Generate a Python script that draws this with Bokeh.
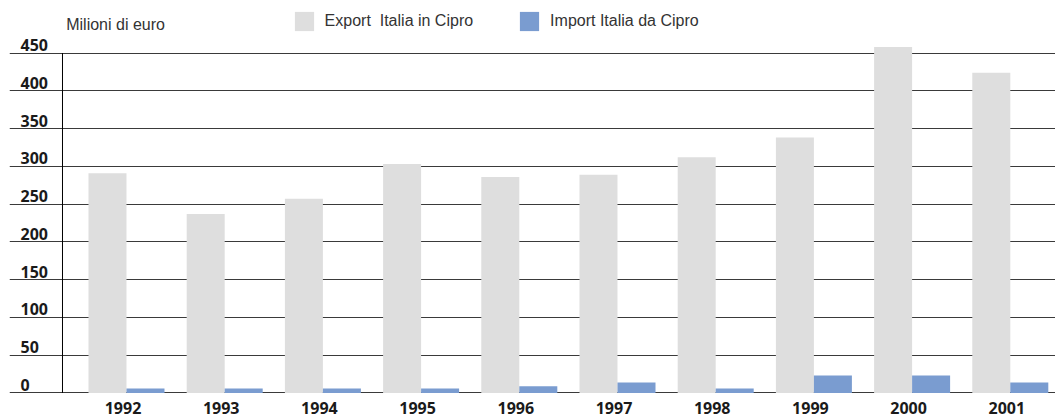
import numpy as np
from bokeh.plotting import figure
from bokeh.models import Range1d, Grid, FixedTicker, Label, Legend, LegendItem, ColumnDataSource
from bokeh.core.properties import value
from bokeh.embed import file_html
from bokeh.resources import INLINE

# ---- data ----
years = ["1992", "1993", "1994", "1995", "1996", "1997", "1998", "1999", "2000", "2001"]
export_vals = [291, 237, 257, 303, 286, 289, 312, 338, 458, 424]
import_vals = [6, 6, 6, 6, 9, 14, 6, 23, 23, 14]
y_ticks = [0, 50, 100, 150, 200, 250, 300, 350, 400, 450]
y_tick_labels = [str(t) for t in y_ticks]
series_names = ["Export  Italia in Cipro", "Import Italia da Cipro"]
unit_label = "Milioni di euro"

# ---- styles ----
EXPORT_COLOR = "#dedede"
IMPORT_COLOR = "#7a9cd0"
GRID_COLOR = "#3a3a3a"
LABEL_FONT = "Open Sans"
LIGHT_FONT = "Liberation Sans"
BAR_W = 0.387

idx = np.arange(len(years))
src = ColumnDataSource(dict(
    x_exp=idx - BAR_W / 2,
    x_imp=idx + BAR_W / 2,
    exp=export_vals,
    imp=import_vals,
))

p = figure(width=1055, height=419,
           x_range=Range1d(-1.1914, 9.4603), y_range=Range1d(-35.1, 519.5),
           x_axis_type=None, y_axis_type=None,
           toolbar_location=None, output_backend="svg",
           min_border=0, min_border_left=9, min_border_right=0,
           min_border_top=0, min_border_bottom=0,
           outline_line_color=None, background_fill_color="white",
           border_fill_color="white")

grid = Grid(dimension=1, ticker=FixedTicker(ticks=y_ticks),
            grid_line_color=GRID_COLOR, grid_line_width=1)
p.add_layout(grid)

# vertical axis line
axis_x = -0.6517
p.segment(x0=[axis_x], y0=[y_ticks[0]], x1=[axis_x], y1=[y_ticks[-1]],
          line_color="black", line_width=1)

r_exp = p.vbar(x="x_exp", top="exp", bottom=0, width=BAR_W, source=src,
               fill_color=EXPORT_COLOR, line_color=None)
r_imp = p.vbar(x="x_imp", top="imp", bottom=0, width=BAR_W, source=src,
               fill_color=IMPORT_COLOR, line_color=None)

# y tick labels (left aligned, above grid lines)
p.text(x=-1.0794, y=y_ticks, text=y_tick_labels,
       text_font=value(LABEL_FONT), text_font_size="16px", text_font_style="bold",
       text_color="#1a1a1a", text_align="left", text_baseline="alphabetic",
       y_offset=-8)

# year labels
p.text(x=idx, y=[0] * len(years), text=years,
       text_font=value(LABEL_FONT), text_font_size="16px", text_font_style="bold",
       text_color="#1a1a1a", text_align="center", text_baseline="alphabetic",
       x_offset=-3.5, y_offset=15)

# unit label
p.add_layout(Label(x=56.7, y=394.7, x_units="screen", y_units="screen",
                   text=unit_label, text_font=LIGHT_FONT, text_font_size="16px",
                   text_color="#333333", text_baseline="alphabetic"))

legend = Legend(items=[LegendItem(label=series_names[0], renderers=[r_exp]),
                       LegendItem(label=series_names[1], renderers=[r_imp])],
                orientation="horizontal", location=(282.6, 385.6),
                glyph_width=24, glyph_height=24, label_standoff=9, spacing=44,
                padding=0, margin=0, border_line_color=None,
                background_fill_alpha=0,
                label_text_font=LIGHT_FONT, label_text_font_size="16px",
                label_text_color="#333333", label_height=24)
p.add_layout(legend)

open("out.html", "w").write(file_html(p, INLINE))
